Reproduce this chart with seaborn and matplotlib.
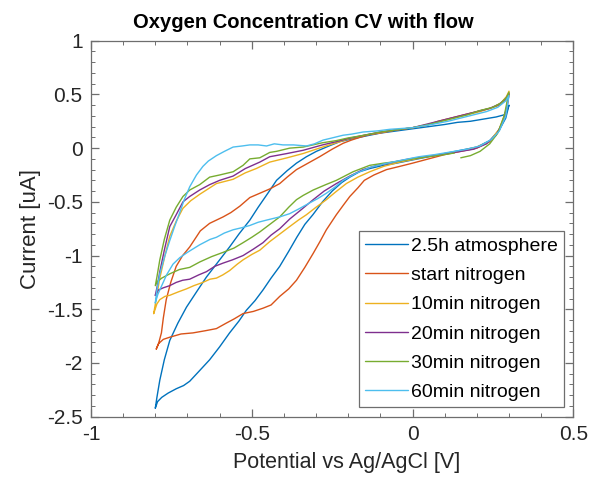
import numpy as np
import pandas as pd
import matplotlib
matplotlib.use("Agg")
import matplotlib.pyplot as plt
import seaborn as sns

labels = ["2.5h atmosphere", "start nitrogen", "10min nitrogen",
          "20min nitrogen", "30min nitrogen", "60min nitrogen"]
colors = ["#0072BD", "#D95319", "#EDB120", "#7E2F8E", "#77AC30", "#4DBEEE"]

# ---- 2.5h atmosphere (blue)
atm_v = [-0.800, -0.793, -0.780, -0.760, -0.735, -0.712, -0.693, -0.665, -0.631, -0.600, -0.569, -0.540,
         -0.517, -0.490, -0.465, -0.440, -0.413, -0.385, -0.360, -0.335, -0.310, -0.280, -0.250, -0.220,
         -0.195, -0.165, -0.133, -0.090, -0.050, 0.000, 0.050, 0.100, 0.150, 0.200, 0.240, 0.270, 0.290, 0.300,
         0.295, 0.285, 0.260, 0.220, 0.180, 0.140, 0.100, 0.050, 0.000, -0.050, -0.100, -0.150, -0.190,
         -0.226, -0.260, -0.299, -0.330, -0.361, -0.390, -0.423, -0.450, -0.480, -0.506, -0.540, -0.569,
         -0.605, -0.641, -0.670, -0.703, -0.730, -0.755, -0.772, -0.786, -0.795, -0.800]
atm_i = [-2.42, -2.36, -2.32, -2.28, -2.24, -2.21, -2.17, -2.08, -1.97, -1.85, -1.72, -1.61,
         -1.51, -1.42, -1.32, -1.21, -1.10, -0.96, -0.83, -0.71, -0.62, -0.50, -0.40, -0.32,
         -0.27, -0.22, -0.19, -0.16, -0.14, -0.11, -0.08, -0.05, -0.02, 0.01, 0.07, 0.17, 0.28, 0.40,
         0.36, 0.31, 0.29, 0.27, 0.25, 0.24, 0.22, 0.20, 0.18, 0.16, 0.14, 0.11, 0.085,
         0.06, 0.02, -0.03, -0.08, -0.14, -0.21, -0.30, -0.42, -0.55, -0.67, -0.80, -0.92,
         -1.06, -1.20, -1.33, -1.48, -1.63, -1.79, -1.97, -2.16, -2.32, -2.42]

# ---- start nitrogen (orange)
start_v = [-0.797, -0.790, -0.775, -0.755, -0.720, -0.683, -0.645, -0.610, -0.580, -0.555, -0.527, -0.495,
           -0.465, -0.440, -0.413, -0.385, -0.361, -0.335, -0.309, -0.288, -0.268, -0.237, -0.215, -0.195,
           -0.170, -0.150, -0.120, -0.081, -0.040, 0.000, 0.050, 0.100, 0.150, 0.200, 0.240, 0.270, 0.290, 0.300,
           0.290, 0.270, 0.240, 0.200, 0.160, 0.120, 0.080, 0.040, 0.000, -0.050, -0.102, -0.135, -0.164,
           -0.190, -0.216, -0.250, -0.289, -0.325, -0.361, -0.390, -0.413, -0.444, -0.475, -0.506, -0.537,
           -0.565, -0.589, -0.631, -0.660, -0.693, -0.715, -0.735, -0.752, -0.766, -0.775, -0.781, -0.790, -0.797]
start_i = [-1.87, -1.82, -1.78, -1.76, -1.73, -1.72, -1.70, -1.68, -1.63, -1.59, -1.54, -1.52,
           -1.49, -1.46, -1.38, -1.31, -1.23, -1.11, -0.98, -0.87, -0.76, -0.62, -0.53, -0.45,
           -0.37, -0.30, -0.25, -0.20, -0.17, -0.14, -0.10, -0.06, -0.03, 0.00, 0.06, 0.17, 0.32, 0.50,
           0.45, 0.40, 0.37, 0.34, 0.31, 0.28, 0.25, 0.21, 0.19, 0.17, 0.14, 0.125, 0.10,
           0.075, 0.045, -0.01, -0.08, -0.14, -0.20, -0.27, -0.33, -0.38, -0.42, -0.46, -0.54,
           -0.60, -0.64, -0.70, -0.77, -0.92, -1.00, -1.10, -1.25, -1.41, -1.58, -1.72, -1.82, -1.87]

# ---- 10min nitrogen (yellow)
n10_v = [-0.805, -0.795, -0.786, -0.770, -0.755, -0.730, -0.703, -0.680, -0.652, -0.630, -0.610, -0.590,
         -0.569, -0.545, -0.527, -0.500, -0.475, -0.444, -0.413, -0.382, -0.355, -0.330, -0.300, -0.268,
         -0.240, -0.206, -0.170, -0.133, -0.090, -0.040, 0.010, 0.060, 0.110, 0.160, 0.200, 0.240, 0.270,
         0.290, 0.300,
         0.292, 0.275, 0.250, 0.210, 0.170, 0.130, 0.090, 0.050, 0.000, -0.050, -0.100, -0.150, -0.200,
         -0.237, -0.280, -0.340, -0.390, -0.444, -0.486, -0.520, -0.558, -0.610, -0.662, -0.690, -0.714,
         -0.735, -0.755, -0.770, -0.786, -0.797, -0.805]
n10_i = [-1.54, -1.45, -1.41, -1.38, -1.37, -1.34, -1.31, -1.28, -1.25, -1.22, -1.21, -1.18,
         -1.14, -1.08, -1.04, -0.99, -0.95, -0.87, -0.80, -0.73, -0.67, -0.62, -0.55, -0.48,
         -0.41, -0.33, -0.27, -0.22, -0.17, -0.13, -0.10, -0.07, -0.05, -0.02, 0.01, 0.06, 0.18,
         0.34, 0.53,
         0.48, 0.42, 0.38, 0.34, 0.31, 0.28, 0.25, 0.22, 0.19, 0.17, 0.145, 0.12, 0.085,
         0.05, 0.01, -0.05, -0.09, -0.13, -0.19, -0.23, -0.29, -0.33, -0.43, -0.49, -0.56,
         -0.68, -0.82, -1.00, -1.21, -1.40, -1.54]

# ---- 20min nitrogen (purple)
n20_v = [-0.800, -0.790, -0.775, -0.755, -0.735, -0.715, -0.693, -0.665, -0.641, -0.615, -0.589, -0.560,
         -0.527, -0.495, -0.465, -0.440, -0.413, -0.382, -0.345, -0.309, -0.275, -0.237, -0.195, -0.154,
         -0.110, -0.060, -0.010, 0.040, 0.090, 0.140, 0.190, 0.230, 0.260, 0.280, 0.295, 0.300,
         0.290, 0.270, 0.240, 0.200, 0.160, 0.120, 0.080, 0.040, 0.000, -0.050, -0.100, -0.150, -0.200,
         -0.237, -0.280, -0.340, -0.390, -0.444, -0.475, -0.520, -0.558, -0.600, -0.631, -0.662, -0.693,
         -0.714, -0.735, -0.755, -0.772, -0.786, -0.795, -0.800]
n20_i = [-1.37, -1.32, -1.30, -1.28, -1.25, -1.23, -1.22, -1.18, -1.15, -1.10, -1.07, -1.04,
         -1.00, -0.94, -0.88, -0.81, -0.75, -0.66, -0.57, -0.48, -0.40, -0.33, -0.26, -0.20,
         -0.16, -0.13, -0.10, -0.08, -0.06, -0.035, -0.01, 0.04, 0.12, 0.24, 0.40, 0.51,
         0.46, 0.41, 0.37, 0.34, 0.31, 0.28, 0.25, 0.22, 0.19, 0.17, 0.15, 0.12, 0.09,
         0.06, 0.03, -0.02, -0.05, -0.08, -0.13, -0.19, -0.26, -0.30, -0.34, -0.39, -0.45,
         -0.50, -0.62, -0.73, -0.95, -1.15, -1.30, -1.37]

# ---- 30min nitrogen (green)
n30_v = [0.150, 0.180, 0.210, 0.240, 0.265, 0.285, 0.300,
         0.292, 0.275, 0.250, 0.210, 0.170, 0.130, 0.090, 0.050, 0.000, -0.050, -0.100, -0.150, -0.200,
         -0.237, -0.280, -0.340, -0.382, -0.423, -0.444, -0.475, -0.506, -0.527, -0.558, -0.600, -0.631,
         -0.662, -0.693, -0.714, -0.735, -0.755, -0.772, -0.786, -0.795, -0.800,
         -0.793, -0.780, -0.755, -0.725, -0.693, -0.662, -0.625, -0.589, -0.555, -0.527, -0.500, -0.475,
         -0.444, -0.413, -0.385, -0.361, -0.340, -0.309, -0.270, -0.237, -0.185, -0.133, -0.090, -0.050,
         0.000, 0.050, 0.100, 0.130]
n30_i = [-0.09, -0.07, -0.03, 0.04, 0.14, 0.30, 0.52,
         0.47, 0.42, 0.38, 0.35, 0.31, 0.28, 0.25, 0.22, 0.19, 0.17, 0.15, 0.12, 0.095,
         0.07, 0.05, 0.01, 0.00, -0.03, -0.04, -0.09, -0.10, -0.16, -0.22, -0.25, -0.27,
         -0.34, -0.39, -0.45, -0.55, -0.67, -0.85, -1.04, -1.20, -1.28,
         -1.24, -1.21, -1.17, -1.13, -1.11, -1.06, -1.01, -0.97, -0.93, -0.88, -0.83, -0.78,
         -0.71, -0.64, -0.55, -0.48, -0.44, -0.39, -0.34, -0.30, -0.22, -0.16, -0.14, -0.125,
         -0.10, -0.08, -0.06, -0.045]

# ---- 60min nitrogen (cyan)
n60_v = [-0.800, -0.792, -0.780, -0.765, -0.745, -0.724, -0.700, -0.662, -0.630, -0.610, -0.585, -0.558,
         -0.530, -0.506, -0.480, -0.454, -0.413, -0.382, -0.350, -0.320, -0.295, -0.268, -0.240, -0.216,
         -0.180, -0.133, -0.080, -0.030, 0.020, 0.070, 0.120, 0.170, 0.210, 0.245, 0.270, 0.290, 0.300,
         0.290, 0.265, 0.230, 0.190, 0.150, 0.110, 0.060, 0.000, -0.071, -0.110, -0.154, -0.190, -0.216,
         -0.250, -0.278, -0.305, -0.330, -0.370, -0.403, -0.430, -0.454, -0.480, -0.506, -0.530, -0.558,
         -0.585, -0.610, -0.635, -0.652, -0.672, -0.693, -0.710, -0.724, -0.740, -0.755, -0.770, -0.786,
         -0.795, -0.800]
n60_i = [-1.44, -1.36, -1.28, -1.18, -1.08, -1.02, -0.97, -0.90, -0.85, -0.83, -0.79, -0.76,
         -0.74, -0.72, -0.69, -0.67, -0.64, -0.61, -0.56, -0.51, -0.47, -0.42, -0.36, -0.30,
         -0.24, -0.18, -0.14, -0.11, -0.08, -0.06, -0.035, -0.01, 0.02, 0.08, 0.16, 0.30, 0.49,
         0.44, 0.38, 0.34, 0.31, 0.28, 0.25, 0.22, 0.19, 0.175, 0.16, 0.15, 0.13, 0.12,
         0.095, 0.075, 0.04, 0.02, 0.03, 0.03, 0.04, 0.02, 0.03, 0.03, 0.02, 0.01,
         -0.03, -0.07, -0.12, -0.17, -0.25, -0.36, -0.48, -0.60, -0.73, -0.86, -1.00, -1.17,
         -1.32, -1.44]

series = [(atm_v, atm_i), (start_v, start_i), (n10_v, n10_i),
          (n20_v, n20_i), (n30_v, n30_i), (n60_v, n60_i)]

frames = []
for lab, (v, i) in zip(labels, series):
    frames.append(pd.DataFrame({"Potential": v, "Current": i, "Run": lab,
                                "step": np.arange(len(v))}))
df = pd.concat(frames, ignore_index=True)

sns.set_style("ticks")
plt.rcParams["font.family"] = ["Liberation Sans", "DejaVu Sans"]

fig = plt.figure(figsize=(5.90, 4.99), dpi=100)
ax = fig.add_axes([91 / 590, 1 - 416.7 / 499, (573.3 - 91) / 590, (416.7 - 40.7) / 499])

sns.lineplot(data=df, x="Potential", y="Current", hue="Run", hue_order=labels,
             palette=colors, sort=False, estimator=None, linewidth=1.0, ax=ax)

ax.set_xlim(-1, 0.5)
ax.set_ylim(-2.5, 1)
ax.set_xticks([-1, -0.5, 0, 0.5])
ax.set_xticklabels(["-1", "-0.5", "0", "0.5"])
ax.set_yticks([1, 0.5, 0, -0.5, -1, -1.5, -2, -2.5])
ax.set_yticklabels(["1", "0.5", "0", "-0.5", "-1", "-1.5", "-2", "-2.5"])
ax.set_xticks(np.arange(-1, 0.51, 0.1), minor=True)
ax.set_yticks(np.arange(-2.5, 1.01, 0.1), minor=True)

axcol = "#262626"
for s in ax.spines.values():
    s.set_visible(True)
    s.set_color("#6e6e6e")
    s.set_linewidth(0.9)
ax.tick_params(which="both", direction="in", top=True, right=True, color="#6e6e6e",
               labelcolor=axcol, labelsize=15)
ax.tick_params(which="major", length=6, width=0.9, pad=6)
ax.tick_params(which="minor", length=3, width=0.7)

ax.set_xlabel("Potential vs Ag/AgCl [V]", fontsize=15.5, color=axcol, labelpad=6, x=0.53)
ax.set_ylabel("Current [uA]", fontsize=16, color=axcol, labelpad=4)
ax.set_title("Oxygen Concentration CV with flow", fontsize=14.5, fontweight="bold",
             color="black", pad=9, x=0.44)

handles, labs = ax.get_legend_handles_labels()
leg = ax.legend(handles, labs, loc="lower right", fontsize=14, frameon=True, fancybox=False,
                framealpha=1, edgecolor="#6e6e6e", borderpad=0.3, labelspacing=0.6,
                handlelength=2.2, handletextpad=0.15, borderaxespad=0.5)
leg.get_frame().set_linewidth(0.9)
for t in leg.get_texts():
    t.set_color("black")

fig.savefig("out.png", dpi=100)
